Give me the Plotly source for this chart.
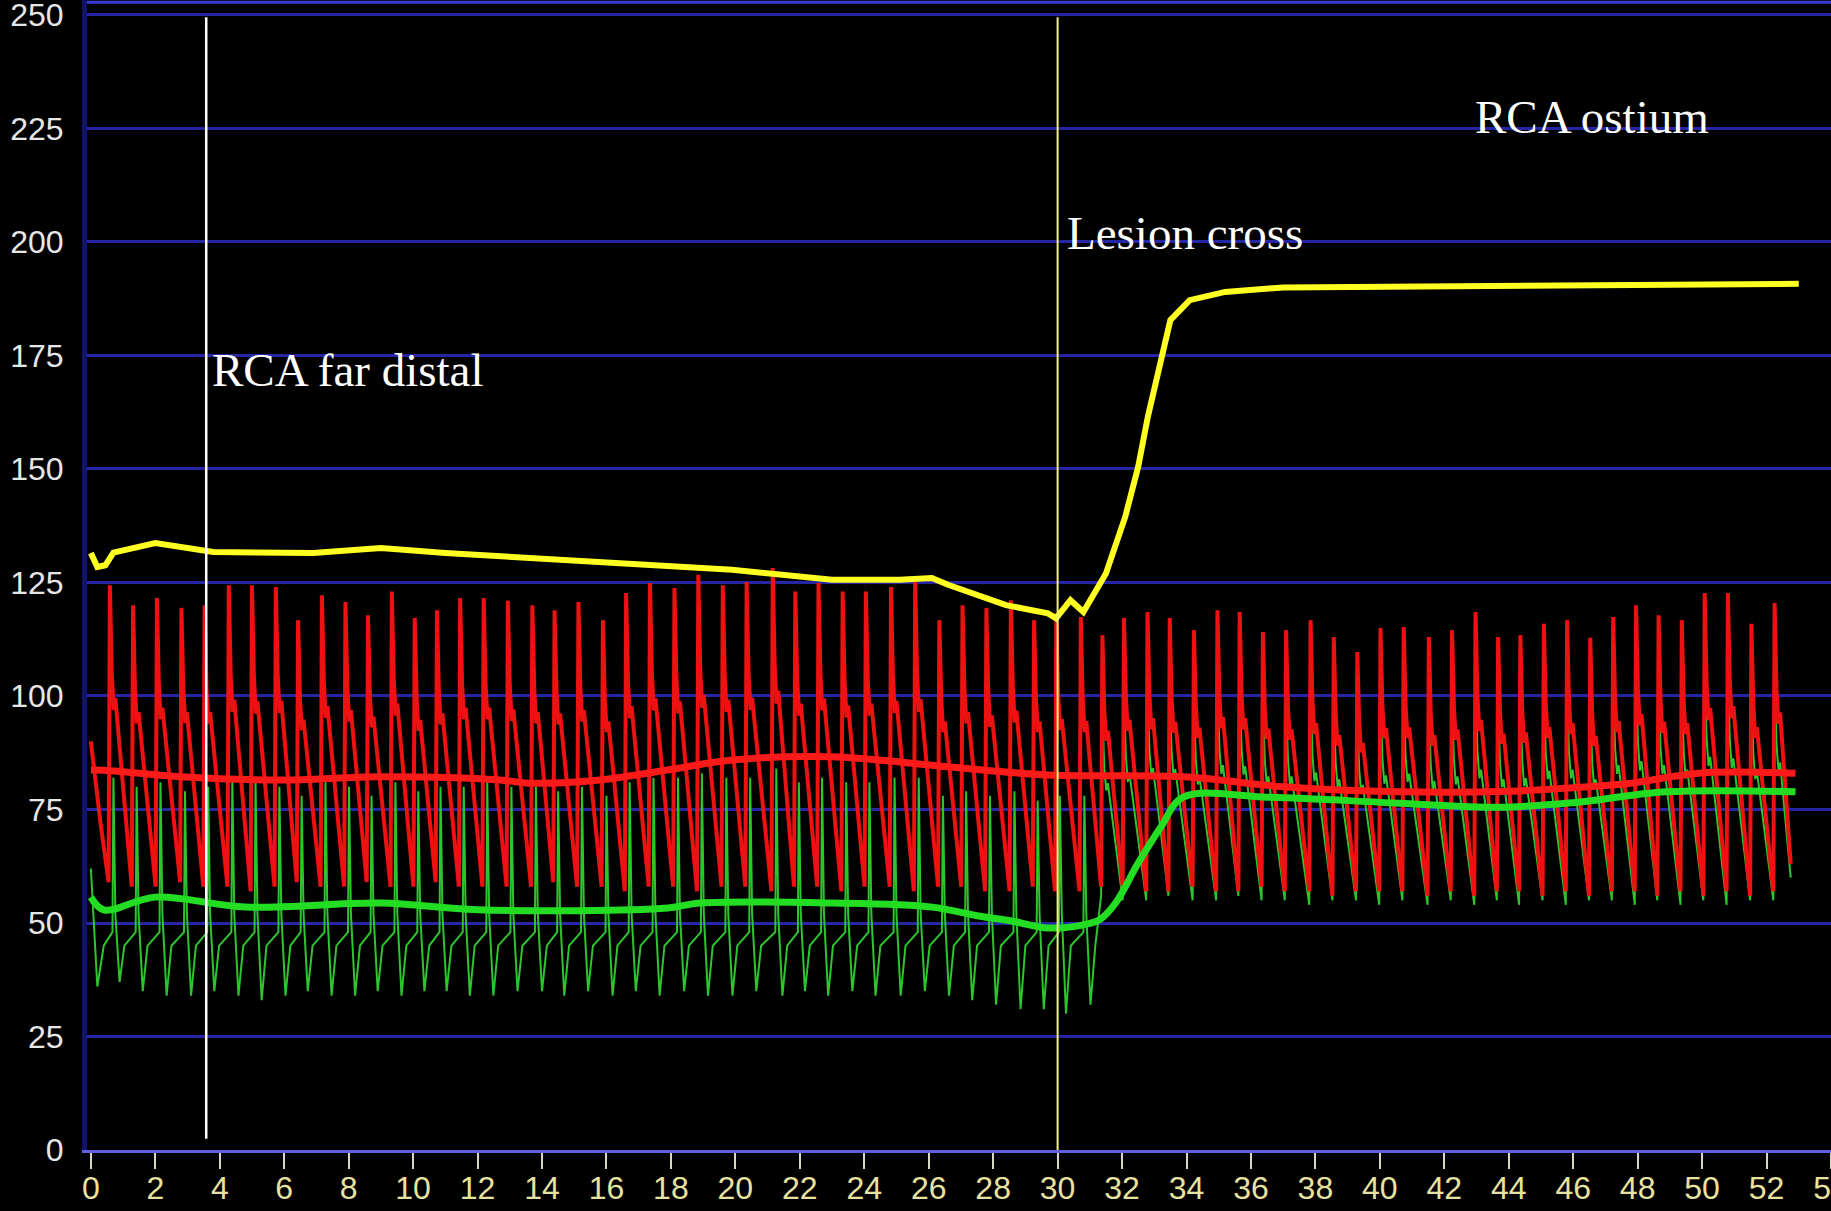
import plotly.graph_objects as go

# ---------------- data ----------------
# beat (systolic peak) times, seconds
beat_t = [0.59, 1.31, 2.05, 2.81, 3.53, 4.28, 5.00, 5.74, 6.43, 7.17, 7.90, 8.60, 9.34, 10.05, 10.74, 11.46, 12.19, 12.94,
          13.70, 14.39, 15.13, 15.89, 16.61, 17.35, 18.11, 18.85, 19.61, 20.35, 21.16, 21.86, 22.58, 23.33, 24.05, 24.83, 25.58, 26.33,
          27.05, 27.79, 28.55, 29.27, 29.96, 30.72, 31.39, 32.06, 32.79, 33.48, 34.23, 34.96, 35.65, 36.37, 37.09, 37.85, 38.57, 39.30, 40.02,
          40.74, 41.52, 42.24, 42.97, 43.67, 44.36, 45.09, 45.81, 46.53, 47.24, 47.95, 48.65, 49.37, 50.08, 50.80, 51.53, 52.25]

# aortic (red) systolic / diastolic per beat
red_sys = [124.4, 120, 121.6, 119.4, 120, 124.4, 124.4, 124, 116.7, 122.2, 120.7, 117.8, 123, 117.2, 118.9, 121.6, 121.6, 121,
           120, 118.9, 120.7, 116.7, 122.7, 124.9, 123.8, 126.7, 124.4, 125.1, 128.2, 123, 124.9, 123, 123, 124, 125.1, 116.7,
           120, 119.4, 121.1, 116.7, 118.2, 117.4, 113.4, 117.2, 118.5, 117.2, 114.5, 118.9, 118.5, 114.1, 114.5, 116.7, 113, 109.7, 115,
           115.2, 113, 114.5, 118.5, 113, 113.4, 115.9, 116.7, 112.8, 117.4, 120, 117.8, 116.7, 122.7, 122.7, 115.9, 120.5]
red_dia = [59, 58, 58, 59, 58, 58, 57, 58, 59, 58, 58, 59, 58, 58, 59, 58, 58, 58,
           58, 59, 58, 58, 57, 58, 58, 57, 58, 58, 57, 58, 58, 57, 58, 58, 57, 58,
           58, 57, 57, 58, 57, 57, 58, 58, 57, 57, 58, 57, 57, 58, 57, 57, 56, 57, 57,
           57, 56, 57, 56, 57, 57, 56, 57, 56, 57, 57, 56, 57, 56, 57, 56, 57]

# distal (green) systolic / diastolic per beat
green_sys = [82, 80, 81, 79, 80, 82, 81, 80, 78, 81, 80, 78, 81, 79, 80, 80, 81, 80,
             80, 79, 80, 78, 81, 82, 82, 83, 82, 82, 84, 81, 82, 81, 81, 82, 82, 78,
             79, 78, 79, 77, 78, 78,
             96, 100, 102, 101, 99, 103, 102, 99, 99, 101, 98, 96, 100,
             100, 98, 99, 102, 98, 99, 101, 102, 98, 103, 105, 103, 102, 106, 106, 101, 104]
green_dia = [37, 35, 34, 34, 35, 34, 33, 34, 35, 34, 34, 35, 34, 35, 35, 34, 34, 35,
             35, 34, 35, 34, 35, 34, 35, 34, 34, 35, 34, 35, 34, 35, 34, 34, 35, 34,
             33, 32, 31, 31, 30, 32,
             56, 55, 55, 56, 55, 55, 56, 55, 55, 54, 55, 55, 54,
             55, 54, 55, 54, 55, 54, 55, 54, 55, 55, 54, 55, 54, 55, 54, 55, 55]
green_crossed_from = 42  # beat index from which the sensor is proximal to the lesion

# trace start / end segments
red_lead_t, red_lead_v = [0.0, 0.3], [90, 72]
red_tail_t, red_tail_v = [52.75], [63]
green_lead_t, green_lead_v = [0.0, 0.2, 0.4], [62, 36, 45]
green_tail_t, green_tail_v = [52.75], [60]

# moving means
red_mean_t = [0, 0.7, 2.8, 5.9, 9.0, 12.7, 13.6, 15.8, 17.9, 19.9, 23.0, 26.6, 29.7, 33.9, 37.0, 40.6, 44.0, 46.0, 47.8, 49.9, 52.9]
red_mean_v = [83.7, 83.5, 82.2, 81.5, 82.2, 81.5, 80.8, 81.5, 83.7, 85.9, 86.6, 84.4, 82.6, 82.2, 80, 78.9, 79.0, 79.8, 80.8, 83, 83]
green_mean_t = [0, 0.4, 2.0, 4.8, 9.0, 12.0, 17.9, 18.9, 23.0, 26.1, 27.5, 28.6, 29.7, 30.8, 31.3, 31.8, 32.5, 33.2, 33.9,
                36.5, 40.6, 43.7, 46.0, 48.9, 52.9]
green_mean_v = [55.7, 52.9, 55.7, 53.5, 54.4, 52.9, 53.3, 54.4, 54.4, 53.5, 51.6, 50.4, 48.9, 49.6, 50.7, 54.4, 63.2, 71.1, 77.7,
                77.7, 76.4, 75.5, 76.5, 78.9, 78.9]

# yellow trace
yellow_t = [0, 0.2, 0.45, 0.7, 2.0, 3.8, 6.9, 9.0, 11.0, 13.6, 15.8, 17.9, 19.9, 23.0, 25.1, 26.1, 26.6, 28.4, 29.7, 29.95, 30.4,
            30.8, 31.5, 32.1, 32.5, 32.8, 33.2, 33.5, 34.1, 35.2, 37.0, 43.5, 48, 53.0]
yellow_v = [131.5, 128.4, 128.8, 131.6, 133.7, 131.7, 131.5, 132.6, 131.5, 130.4, 129.5, 128.4, 127.8, 125.6, 125.6, 126, 124.5, 120,
            118.2, 117.1, 121.1, 118.5, 127, 139.5, 150.5, 161.5, 174, 182.8, 187.2, 189, 190, 190.3, 190.6, 190.8]

marker_far_distal = 3.58
marker_lesion = 30.0
labels = [("RCA far distal", 3.69, 171.8), ("Lesion cross", 30.23, 201.9), ("RCA ostium", 42.9, 227.5)]

x_ticks = list(range(0, 56, 2))
y_ticks = list(range(0, 251, 25))

# ---------------- build waveforms ----------------
def arterial(t, s, d):
    return [t - 0.04, t, t + 0.06, t + 0.12, t + 0.17], [d, s, d + 0.70 * (s - d), d + 0.58 * (s - d), d + 0.62 * (s - d)]

rx, ry = list(red_lead_t), list(red_lead_v)
for i, t in enumerate(beat_t):
    a, b = arterial(t, red_sys[i], red_dia[i])
    rx += a; ry += b
rx += red_tail_t; ry += red_tail_v

gx, gy = list(green_lead_t), list(green_lead_v)
for i, t in enumerate(beat_t):
    if i < green_crossed_from:
        gx += [t + 0.08, t + 0.11, t + 0.17, t + 0.30, t + 0.45]
        gy += [48, green_sys[i], 52, green_dia[i], 45]
    else:
        a, b = arterial(t, green_sys[i], green_dia[i])
        gx += a; gy += b
gx += green_tail_t; gy += green_tail_v

fig = go.Figure()
fig.add_trace(go.Scatter(x=gx, y=gy, mode="lines", line=dict(color="#2ec42e", width=2), hoverinfo="skip"))
fig.add_trace(go.Scatter(x=rx, y=ry, mode="lines", line=dict(color="#ee1111", width=4), hoverinfo="skip"))
fig.add_trace(go.Scatter(x=green_mean_t, y=green_mean_v, mode="lines", line=dict(color="#22dd22", width=7, shape="spline"), hoverinfo="skip"))
fig.add_trace(go.Scatter(x=red_mean_t, y=red_mean_v, mode="lines", line=dict(color="#ff1a1a", width=7, shape="spline"), hoverinfo="skip"))
fig.add_trace(go.Scatter(x=yellow_t, y=yellow_v, mode="lines", line=dict(color="#ffff22", width=6), hoverinfo="skip"))

tick_font = dict(family="Liberation Sans, Arial, sans-serif", size=32)

fig.update_layout(
    width=1831, height=1211,
    margin=dict(l=87, r=0, t=0, b=61, autoexpand=False),
    paper_bgcolor="black", plot_bgcolor="black",
    showlegend=False,
    xaxis=dict(range=[-0.12, 54.0], tickvals=x_ticks, ticktext=[str(v) for v in x_ticks], automargin=False,
               showgrid=False, zeroline=False, showline=True, linecolor="#6262e0", linewidth=3,
               ticks="outside", ticklen=16, tickwidth=2, tickcolor="#d8d8c0", ticklabeloverflow="allow",
               ticklabelstandoff=-8,
               tickfont=dict(color="#e8e2a0", **tick_font)),
    yaxis=dict(range=[0, 253.3], tickvals=y_ticks, ticktext=[str(v) for v in y_ticks], automargin=False,
               showgrid=True, gridcolor="#2626a4", gridwidth=3, zeroline=False,
               showline=True, linecolor="#12126a", linewidth=5, ticks="", ticklabelstandoff=12,
               ticklabeloverflow="allow",
               tickfont=dict(color="#e6e6e6", **tick_font)),
    shapes=[
        dict(type="line", xref="paper", yref="paper", x0=0, x1=1, y0=0.998, y1=0.998, line=dict(color="#3a3ad8", width=3), layer="above"),
        dict(type="line", xref="x", yref="y", x0=marker_far_distal, x1=marker_far_distal, y0=2.5, y1=249.5,
             line=dict(color="white", width=2.5), layer="above"),
        dict(type="line", xref="x", yref="y", x0=marker_lesion, x1=marker_lesion, y0=0, y1=249.5,
             line=dict(color="#f2f27a", width=2), layer="above"),
    ],
    annotations=[dict(text=s, x=x, y=y, xref="x", yref="y", xanchor="left", yanchor="middle", showarrow=False,
                      font=dict(family="Liberation Serif, Times New Roman, serif", size=47, color="white"))
                 for s, x, y in labels],
)

fig.write_html("out.html")
